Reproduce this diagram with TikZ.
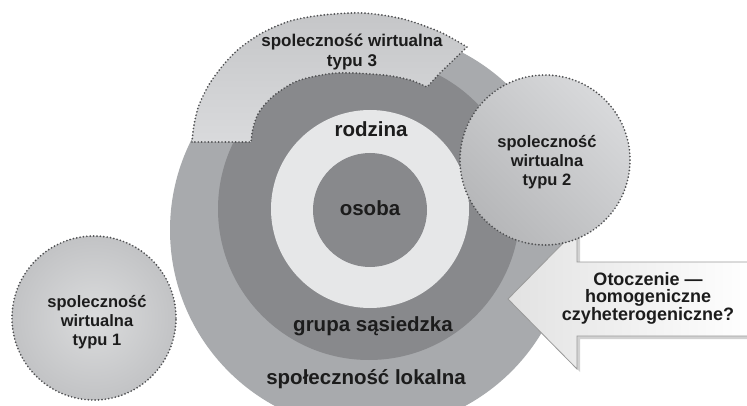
\documentclass[tikz,border=0pt]{standalone}
\usepackage{fontspec}
\setmainfont{Liberation Sans}
\definecolor{ringouter}{HTML}{A8AAAD}
\definecolor{ringdark}{HTML}{88898C}
\definecolor{ringlight}{HTML}{E6E7E8}
\definecolor{dotline}{HTML}{4E4F51}
\definecolor{txt}{HTML}{1C1C1C}
\definecolor{bandA}{HTML}{C5C6C8}
\definecolor{bandB}{HTML}{D9DADC}
\definecolor{discA}{HTML}{DBDCDD}
\definecolor{discB}{HTML}{C2C3C5}
\definecolor{discC}{HTML}{D8D9DB}
\definecolor{discD}{HTML}{B6B7B9}
\definecolor{arrowA}{HTML}{E2E2E2}
\definecolor{arrowrim}{HTML}{9A9A9A}
\begin{document}
\begin{tikzpicture}[x=1pt,y=-1pt,
  disc/.style={circle, inner sep=0pt, draw=none},
  dotrim/.style={draw=dotline, line width=1.9pt, dash pattern=on 0pt off 3.4pt, line cap=round},
  lbl/.style={font=\bfseries\fontsize{20.5}{22}\selectfont, text=txt, anchor=base},
  vlbl/.style={font=\bfseries\fontsize{16.5}{19}\selectfont, text=txt, align=center},
  albl/.style={font=\bfseries\fontsize{18}{17.5}\selectfont, text=txt, align=center}]
\useasboundingbox (0,0) rectangle (747,406);
\fill[white] (0,0) rectangle (747,406);

% concentric rings
\node[disc, fill=ringouter, minimum size=400] (lokalna) at (370,230) {};
\node[disc, fill=ringdark,  minimum size=302] (grupa)   at (369,209) {};
\node[disc, fill=ringlight, minimum size=198] (rodzina) at (370,209) {};
\node[disc, fill=ringdark,  minimum size=114] (osoba)   at (370,210) {};

\node[lbl] (tosoba)   at (370,215) {osoba};
\node[lbl] (trodzina) at (371,137) {rodzina};
\node[lbl] (tgrupa)   at (373,331) {grupa sąsiedzka};
\node[lbl] (tlokalna) at (366,384) {społeczność lokalna};

% curved band of the third virtual community
\path[dotrim, left color=bandA, right color=bandB, shading angle=0]
  plot[smooth] coordinates {(192,142) (194,125) (199,105) (210,83) (225,63) (240,48)
    (262,33) (290,21) (323,15) (363,13) (403,19) (440,32) (467,47)}
  -- (440,73) -- (427,87)
  -- plot[smooth] coordinates {(427,87) (410,80) (383,75) (337,73) (300,80) (280,91)
    (267,102) (258,114) (253,128) (251,142)}
  -- cycle;
\node[vlbl, font=\bfseries\fontsize{17}{19.5}\selectfont] (typ3) at (352,52) {spoleczność wirtualna\\typu 3};

% first virtual community
\node[disc, dotrim, minimum size=164, inner color=discA, outer color=discB] (v1) at (94,318) {};
\node[vlbl] (typ1) at (97,322) {spoleczność\\wirtualna\\typu 1};

% block arrow pointing at the rings
\fill[black, opacity=0.18] (752,265) -- (580,265) -- (580,232) -- (511,302) -- (580,372) -- (580,339) -- (752,339) -- cycle;
\path[draw=arrowrim, line width=0.8pt, left color=arrowA, right color=white, shading angle=90]
  (752,262) -- (577,262) -- (577,229) -- (508,299) -- (577,369) -- (577,336) -- (752,336) -- cycle;
\node[albl] (otoczenie) at (648,298) {Otoczenie —\\homogeniczne\\czyheterogeniczne?};

% second virtual community
\node[disc, dotrim, minimum size=170, left color=discC, right color=discD, shading angle=-45] (v2) at (545,160) {};
\node[vlbl] (typ2) at (547,162) {spoleczność\\wirtualna\\typu 2};
\end{tikzpicture}
\end{document}
